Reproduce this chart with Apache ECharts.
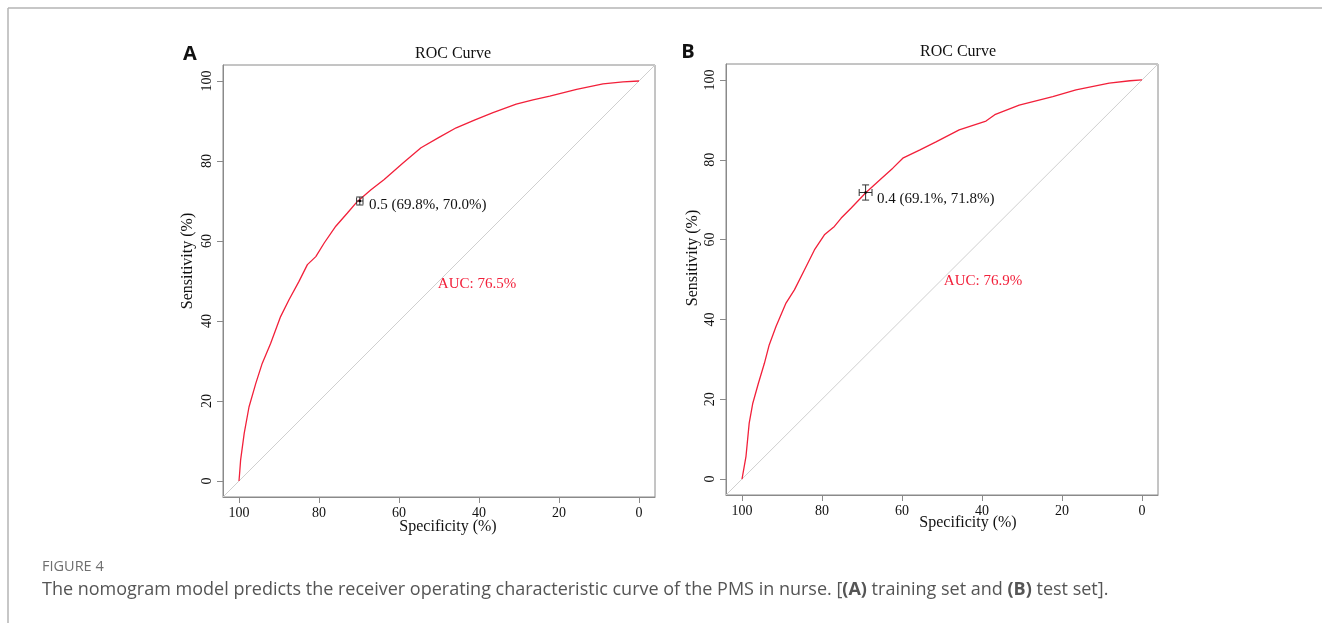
<!DOCTYPE html>
<html>
<head>
<meta charset="utf-8">
<script src="https://cdn.jsdelivr.net/npm/echarts@6/dist/echarts.min.js"></script>
<style>
html,body{margin:0;padding:0;background:#fff;}
#chart{width:1322px;height:623px;}
</style>
</head>
<body>
<div id="chart"></div>
<script>
// ---- data ----
var tickValues = [0, 20, 40, 60, 80, 100];
var specA = [100, 99.8, 99.6, 98.7, 97.5, 95.8, 94.2, 92.1, 89.6, 87.5, 85.0, 82.9, 80.8, 78.7, 75.8, 72.9, 70.4, 67.0, 63.7, 59.0, 54.5, 50.0, 45.7, 41.0, 36.5, 30.7, 26.5, 22.3, 15.6, 9.0, 4.0, 0];
var sensA = [0, 2.5, 5.2, 11.9, 18.5, 24.4, 29.4, 34.4, 41.1, 45.3, 49.9, 54.1, 56.1, 59.5, 63.7, 67.0, 69.9, 72.8, 75.4, 79.5, 83.3, 85.9, 88.3, 90.3, 92.1, 94.2, 95.3, 96.2, 97.9, 99.3, 99.8, 100];
var specB = [100, 99.8, 99.0, 98.2, 97.3, 95.9, 94.4, 93.2, 91.5, 89.0, 86.9, 84.4, 81.9, 79.4, 76.9, 75.2, 72.7, 69.0, 65.5, 62.3, 59.8, 55.5, 51.5, 45.7, 41.5, 39.0, 36.8, 30.7, 22.3, 16.5, 8.2, 3.0, 0];
var sensB = [0, 0.25, 5.7, 14.0, 19.0, 24.0, 29.0, 33.6, 38.2, 44.1, 47.4, 52.4, 57.4, 61.2, 63.3, 65.4, 67.9, 71.8, 75.0, 77.9, 80.4, 82.5, 84.5, 87.5, 88.9, 89.7, 91.3, 93.7, 95.8, 97.5, 99.2, 99.8, 100];
var diagonal = [[104, -4], [-4, 104]];
// threshold point: [spec, sens, specLo, specHi, sensLo, sensHi]
var ciA = [69.8, 70.0, 69.0, 70.6, 69.0, 71.0];
var ciB = [69.1, 71.8, 67.5, 70.7, 69.9, 73.7];
var labelA = '0.5 (69.8%, 70.0%)';
var labelB = '0.4 (69.1%, 71.8%)';
var aucA = 'AUC: 76.5%';
var aucB = 'AUC: 76.9%';

function zip(xs, ys) { return xs.map(function (x, i) { return [x, ys[i]]; }); }

var serif = '"Liberation Serif", "Times New Roman", serif';
var axisGray = '#8a8a8a';
var red = '#f2203a';

function xAxisDef(gi) {
  return {
    type: 'value', gridIndex: gi, min: -4, max: 104, inverse: true,
    axisLine: {show: true, onZero: false, lineStyle: {color: axisGray, width: 1}},
    axisTick: {show: true, inside: false, length: 6, customValues: tickValues, lineStyle: {color: axisGray, width: 1}},
    axisLabel: {customValues: tickValues, margin: 9, color: '#111', fontFamily: serif, fontSize: 14},
    splitLine: {show: false}
  };
}
function yAxisDef(gi) {
  return {
    type: 'value', gridIndex: gi, min: -4, max: 104,
    axisLine: {show: true, onZero: false, lineStyle: {color: axisGray, width: 1}},
    axisTick: {show: true, inside: false, length: 6, customValues: tickValues, lineStyle: {color: axisGray, width: 1}},
    axisLabel: {customValues: tickValues, rotate: 90, margin: 9, color: '#111', fontFamily: serif, fontSize: 14},
    splitLine: {show: false}
  };
}

function ciRender(params, api) {
  var c = api.coord([api.value(0), api.value(1)]);
  var l = api.coord([api.value(2), api.value(1)]);
  var r = api.coord([api.value(3), api.value(1)]);
  var b = api.coord([api.value(0), api.value(4)]);
  var t = api.coord([api.value(0), api.value(5)]);
  var cap = 3.5;
  var st = {stroke: '#333', lineWidth: 1, fill: null};
  function ln(x1, y1, x2, y2) { return {type: 'line', shape: {x1: x1, y1: y1, x2: x2, y2: y2}, style: st}; }
  return {
    type: 'group',
    children: [
      ln(l[0], c[1], r[0], c[1]),
      ln(l[0], c[1] - cap, l[0], c[1] + cap),
      ln(r[0], c[1] - cap, r[0], c[1] + cap),
      ln(c[0], b[1], c[0], t[1]),
      ln(c[0] - cap, b[1], c[0] + cap, b[1]),
      ln(c[0] - cap, t[1], c[0] + cap, t[1]),
      {type: 'circle', shape: {cx: c[0], cy: c[1], r: 1.3}, style: {fill: '#000'}}
    ]
  };
}

function txt(x, y, text, opt) {
  opt = opt || {};
  return {
    type: 'text', x: x, y: y, rotation: opt.rot || 0, silent: true,
    style: {
      text: text, fill: opt.color || '#111', font: opt.font || ('16px ' + serif),
      align: opt.align || 'center', verticalAlign: 'middle'
    }
  };
}

var chart = echarts.init(document.getElementById('chart'), null, {renderer: 'canvas'});
chart.setOption({
  backgroundColor: '#fff',
  animation: false,
  grid: [
    {left: 223, top: 65, width: 432, height: 432, show: true, borderColor: axisGray, borderWidth: 1, backgroundColor: 'transparent'},
    {left: 726, top: 64, width: 432, height: 431, show: true, borderColor: axisGray, borderWidth: 1, backgroundColor: 'transparent'}
  ],
  xAxis: [xAxisDef(0), xAxisDef(1)],
  yAxis: [yAxisDef(0), yAxisDef(1)],
  series: [
    {type: 'line', xAxisIndex: 0, yAxisIndex: 0, data: diagonal, symbol: 'none', lineStyle: {color: '#cfcfcf', width: 1}, z: 1},
    {type: 'line', xAxisIndex: 0, yAxisIndex: 0, data: zip(specA, sensA), symbol: 'none', lineStyle: {color: red, width: 1.3}, z: 2},
    {type: 'custom', xAxisIndex: 0, yAxisIndex: 0, data: [ciA], renderItem: ciRender, z: 3},
    {type: 'line', xAxisIndex: 1, yAxisIndex: 1, data: diagonal, symbol: 'none', lineStyle: {color: '#cfcfcf', width: 1}, z: 1},
    {type: 'line', xAxisIndex: 1, yAxisIndex: 1, data: zip(specB, sensB), symbol: 'none', lineStyle: {color: red, width: 1.3}, z: 2},
    {type: 'custom', xAxisIndex: 1, yAxisIndex: 1, data: [ciB], renderItem: ciRender, z: 3}
  ],
  graphic: [
    {type: 'line', shape: {x1: 8, y1: 8, x2: 1322, y2: 8}, style: {stroke: '#b5b5b5', lineWidth: 1.5}, silent: true},
    {type: 'line', shape: {x1: 8, y1: 8, x2: 8, y2: 623}, style: {stroke: '#b5b5b5', lineWidth: 1.5}, silent: true},
    txt(190, 54, 'A', {font: 'bold 20px "Open Sans", "DejaVu Sans", sans-serif', color: '#111'}),
    txt(688, 52, 'B', {font: 'bold 20px "Open Sans", "DejaVu Sans", sans-serif', color: '#111'}),
    txt(453, 54, 'ROC Curve'),
    txt(958, 52, 'ROC Curve'),
    txt(448, 527, 'Specificity (%)'),
    txt(968, 523, 'Specificity (%)'),
    txt(188, 261, 'Sensitivity (%)', {rot: Math.PI / 2}),
    txt(693, 258, 'Sensitivity (%)', {rot: Math.PI / 2}),
    txt(369, 205, labelA, {align: 'left', font: '15px ' + serif}),
    txt(877, 199, labelB, {align: 'left', font: '15px ' + serif}),
    txt(477, 284, aucA, {font: '15px ' + serif, color: red}),
    txt(983, 281, aucB, {font: '15px ' + serif, color: red}),
    txt(42, 567, 'FIGURE 4', {align: 'left', font: '14.5px "Open Sans", sans-serif', color: '#6f6f6f'}),
    {
      type: 'text', x: 42, y: 590, silent: true,
      style: {
        text: 'The nomogram model predicts the receiver operating characteristic curve of the PMS in nurse. [{b|(A)} training set and {b|(B)} test set].',
        rich: {b: {fontWeight: 'bold', fontSize: 18, fontFamily: '"Open Sans", sans-serif', fill: '#555'}},
        fontSize: 18, fontFamily: '"Open Sans", sans-serif', fill: '#555', align: 'left', verticalAlign: 'middle'
      }
    }
  ]
});
</script>
</body>
</html>
